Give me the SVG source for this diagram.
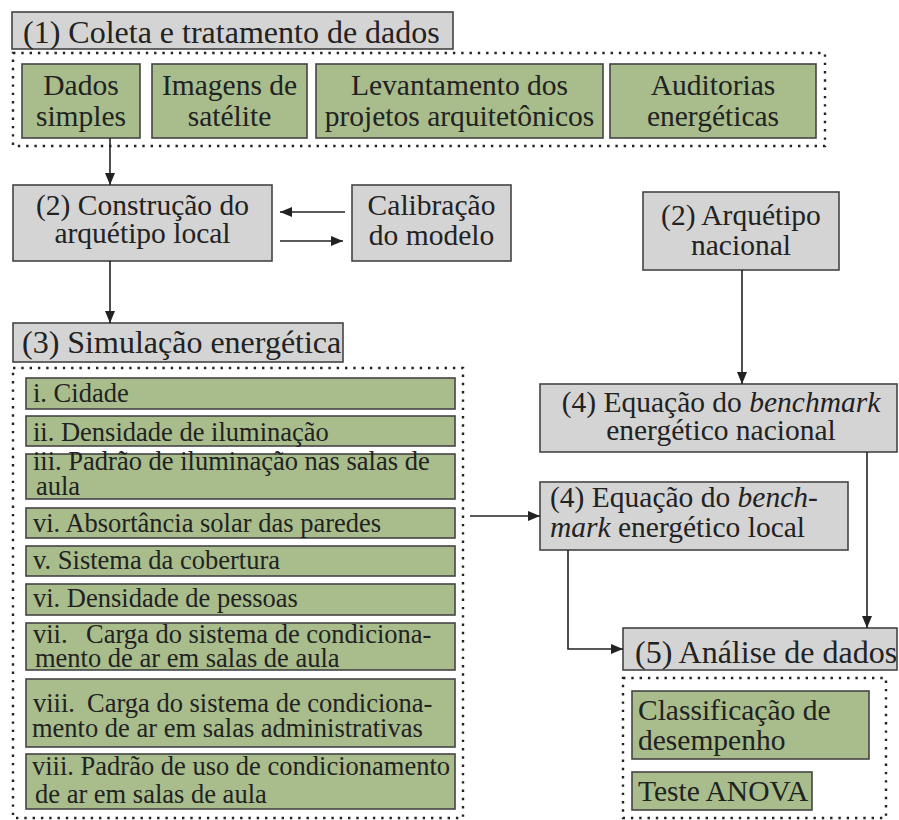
<svg xmlns="http://www.w3.org/2000/svg" width="899" height="820" viewBox="0 0 899 820">
<defs>
<style>
text{font-family:'Liberation Serif',Tinos,'Times New Roman','DejaVu Serif',serif;fill:#222;}
.gray{fill:#d4d4d4;stroke:#444;stroke-width:1.6;}
.green{fill:#a8bc8c;stroke:#444;stroke-width:1.6;}
.dots{fill:none;stroke:#222;stroke-width:2.4;stroke-dasharray:2.4 5.9;}
.t32{font-size:32px;}
.t29{font-size:29.5px;}
.t26{font-size:26.5px;}
.c{text-anchor:middle;}
.conn{fill:none;stroke:#222;stroke-width:1.6;}
</style>
<marker id="ah" viewBox="0 0 12 10" refX="12" refY="5" markerWidth="12" markerHeight="10" markerUnits="userSpaceOnUse" orient="auto">
<path d="M0,0 L12,5 L0,10 Z" fill="#222"/>
</marker>
</defs>
<rect width="899" height="820" fill="#fff"/>

<g id="n1">
<rect class="gray" x="12" y="12" width="441" height="37"/>
<text class="t32" x="23" y="43" font-family="Liberation Serif, serif">(1) Coleta e tratamento de dados</text>
</g>
<g id="c1">
<rect class="dots" x="13" y="53" width="812" height="93"/>
<g id="n1a"><rect class="green" x="22" y="64" width="118" height="74"/>
<text class="t29 c" x="81" y="95">Dados</text><text class="t29 c" x="81" y="126">simples</text></g>
<g id="n1b"><rect class="green" x="152" y="64" width="155" height="74"/>
<text class="t29 c" x="229.5" y="95">Imagens de</text><text class="t29 c" x="229.5" y="126">satélite</text></g>
<g id="n1c"><rect class="green" x="316" y="64" width="287" height="74"/>
<text class="t29 c" x="459.5" y="95">Levantamento dos</text><text class="t29 c" x="459.5" y="126">projetos arquitetônicos</text></g>
<g id="n1d"><rect class="green" x="610" y="64" width="206" height="74"/>
<text class="t29 c" x="713" y="95">Auditorias</text><text class="t29 c" x="713" y="126">energéticas</text></g>
</g>

<g id="n2">
<rect class="gray" x="13" y="185" width="259" height="76"/>
<text class="t29 c" x="142.5" y="215">(2) Construção do</text>
<text class="t29 c" x="142.5" y="243">arquétipo local</text>
</g>
<g id="n2cal">
<rect class="gray" x="352" y="185" width="159" height="76"/>
<text class="t29 c" x="431.5" y="215">Calibração</text>
<text class="t29 c" x="431.5" y="245">do modelo</text>
</g>
<g id="n2nac">
<rect class="gray" x="643" y="192" width="196" height="78"/>
<text class="t29 c" x="741" y="225">(2) Arquétipo</text>
<text class="t29 c" x="741" y="255">nacional</text>
</g>

<g id="n3">
<rect class="gray" x="13" y="323" width="330" height="39"/>
<text class="t32" x="22" y="353">(3) Simulação energética</text>
</g>
<g id="c3">
<rect class="dots" x="13" y="368" width="450" height="450"/>
<g id="v1"><rect class="green" x="26" y="378" width="429" height="31"/>
<text class="t26" x="33" y="402">i. Cidade</text></g>
<g id="v2"><rect class="green" x="26" y="416" width="429" height="30"/>
<text class="t26" x="33" y="441">ii. Densidade de iluminação</text></g>
<g id="v3"><rect class="green" x="26" y="454" width="429" height="45"/>
<text class="t26" x="33" y="470">iii. Padrão de iluminação nas salas de</text>
<text class="t26" x="36" y="495">aula</text></g>
<g id="v4"><rect class="green" x="26" y="508" width="429" height="30"/>
<text class="t26" x="33" y="532">vi. Absortância solar das paredes</text></g>
<g id="v5"><rect class="green" x="26" y="546" width="429" height="30"/>
<text class="t26" x="33" y="569">v. Sistema da cobertura</text></g>
<g id="v6"><rect class="green" x="26" y="584" width="429" height="31"/>
<text class="t26" x="33" y="607">vi. Densidade de pessoas</text></g>
<g id="v7"><rect class="green" x="26" y="623" width="429" height="47"/>
<text class="t26" x="33" y="643">vii.<tspan x="86">Carga do sistema de condiciona-</tspan></text>
<text class="t26" x="35" y="667">mento de ar em salas de aula</text></g>
<g id="v8"><rect class="green" x="26" y="679" width="429" height="68"/>
<text class="t26" x="33" y="712">viii.<tspan x="87">Carga do sistema de condiciona-</tspan></text>
<text class="t26" x="32" y="737">mento de ar em salas administrativas</text></g>
<g id="v9"><rect class="green" x="26" y="754" width="429" height="55"/>
<text class="t26" x="32" y="775">viii. Padrão de uso de condicionamento</text>
<text class="t26" x="35" y="803">de ar em salas de aula</text></g>
</g>

<g id="n4nac">
<rect class="gray" x="540" y="384" width="357" height="68"/>
<text class="t29 c" x="721" y="412">(4) Equação do <tspan font-style="italic">benchmark</tspan></text>
<text class="t29 c" x="721" y="440">energético nacional</text>
</g>
<g id="n4loc">
<rect class="gray" x="540" y="482" width="308" height="68"/>
<text class="t29" x="550" y="507">(4) Equação do <tspan font-style="italic">bench-</tspan></text>
<text class="t29" x="550" y="537"><tspan font-style="italic">mark</tspan> energético local</text>
</g>

<g id="n5">
<rect class="gray" x="623" y="628" width="274" height="42"/>
<text class="t32" x="635" y="663">(5) Análise de dados</text>
</g>
<g id="c5">
<rect class="dots" x="623" y="678" width="263" height="140"/>
<g id="n5a"><rect class="green" x="632" y="691" width="237" height="68"/>
<text class="t29" x="638" y="720">Classificação de</text>
<text class="t29" x="638" y="750">desempenho</text></g>
<g id="n5b"><rect class="green" x="632" y="772" width="180" height="38"/>
<text class="t29" x="638" y="801">Teste ANOVA</text></g>
</g>

<g id="connectors">
<path class="conn" d="M110,138 V185" marker-end="url(#ah)"/>
<path class="conn" d="M345,212 H280" marker-end="url(#ah)"/>
<path class="conn" d="M280,241 H343" marker-end="url(#ah)"/>
<path class="conn" d="M110,261 V323" marker-end="url(#ah)"/>
<path class="conn" d="M742,270 V384" marker-end="url(#ah)"/>
<path class="conn" d="M470,516 H540" marker-end="url(#ah)"/>
<path class="conn" d="M867,452 V628" marker-end="url(#ah)"/>
<path class="conn" d="M568,550 V649 H623" marker-end="url(#ah)"/>
</g>
</svg>
